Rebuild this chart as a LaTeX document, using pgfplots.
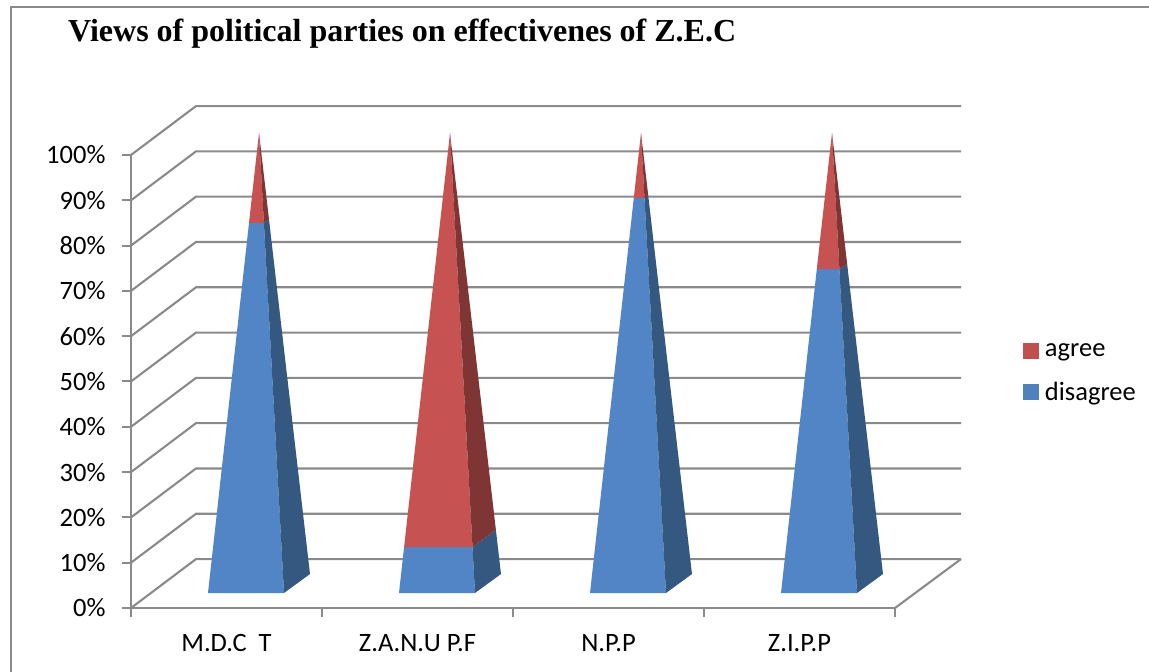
\documentclass[border=0pt]{standalone}
\usepackage{fontspec}
\setmainfont{Carlito}
\newfontfamily\titlefont{Liberation Serif}
\usepackage{pgfplots}
\pgfplotsset{compat=1.18}
\definecolor{axisgray}{HTML}{8A8A8A}
\definecolor{bluefront}{HTML}{5285C6}
\definecolor{blueside}{HTML}{355880}
\definecolor{redfront}{HTML}{C65252}
\definecolor{redside}{HTML}{803535}
\definecolor{legblue}{HTML}{4F81BD}
\definecolor{legred}{HTML}{C0504D}
\pgfplotsset{
  wall/.style={axisgray,line width=2.1pt,forget plot,no markers},
  face/.style={fill=#1,draw=none,forget plot,no markers},
  sq/.style={legend image code/.code={\fill[##1] (0pt,-7.5pt) rectangle (15pt,7.5pt);}},
}
\begin{document}
\begin{tikzpicture}
\useasboundingbox (-131pt,-66pt) rectangle (1018pt,606pt);
\draw[axisgray,line width=1.5pt] (-120pt,-66pt) -- (-120pt,599pt) -- (1018pt,599pt);
\begin{axis}[
  anchor=south west, at={(0pt,-2pt)},
  scale only axis, width=764pt, height=453pt,
  clip=false,
  xmin=131, xmax=895, ymin=0, ymax=100,
  axis lines=left,
  axis line style={axisgray,line width=2.1pt,-},
  tick style={axisgray,line width=2pt},
  tick align=outside,
  major tick length=9pt,
  xtick={131,322,513,704,895},
  xticklabels={},
  extra x ticks={226.5,417.5,608.5,799.5},
  extra x tick labels={M.D.C\ \ T,Z.A.N.U P.F,N.P.P,Z.I.P.P},
  extra x tick style={major tick length=0pt,tick style={draw=none}},
  x tick label style={font=\fontsize{26.5}{30}\selectfont,text=black,yshift=-23pt},
  ytick={0,10,...,100},
  yticklabel={\pgfmathprintnumber{\tick}\%},
  /pgf/number format/assume math mode=true,
  y tick label style={font=\fontsize{26.5}{30}\selectfont,text=black,xshift=-13pt},
  title={Views of political parties on effectivenes of Z.E.C},
  title style={at={(-0.0825,1.2362)},anchor=base west,inner sep=0pt,
    font=\titlefont\bfseries\fontsize{32}{36}\selectfont},
  legend style={at={(1.1675,0.519)},anchor=west,draw=none,fill=none,
    font=\fontsize{26.5}{30}\selectfont,row sep=20pt,inner sep=0pt,
    cells={anchor=west}},
  legend cell align=left,
]
% back wall and side wall grid lines
\addplot[wall] coordinates {(131,0)(196,10.8)(961,10.8)};
\addplot[wall] coordinates {(131,10)(196,20.8)(961,20.8)};
\addplot[wall] coordinates {(131,20)(196,30.8)(961,30.8)};
\addplot[wall] coordinates {(131,30)(196,40.8)(961,40.8)};
\addplot[wall] coordinates {(131,40)(196,50.8)(961,50.8)};
\addplot[wall] coordinates {(131,50)(196,60.8)(961,60.8)};
\addplot[wall] coordinates {(131,60)(196,70.8)(961,70.8)};
\addplot[wall] coordinates {(131,70)(196,80.8)(961,80.8)};
\addplot[wall] coordinates {(131,80)(196,90.8)(961,90.8)};
\addplot[wall] coordinates {(131,90)(196,100.8)(961,100.8)};
\addplot[wall] coordinates {(131,100)(196,110.8)(961,110.8)};
\addplot[wall] coordinates {(895,0)(961,10.8)};
% M.D.C T
\addplot[face=bluefront] coordinates {(208,3.31)(284,3.31)(263.9,84.99)(249,84.99)} --cycle;
\addplot[face=blueside] coordinates {(284,3.31)(310,7.50)(269,85.78)(263.9,84.99)} --cycle;
\addplot[face=redfront] coordinates {(249,84.99)(263.9,84.99)(259,104.86)} --cycle;
\addplot[face=redside] coordinates {(263.9,84.99)(269,85.78)(259,104.86)} --cycle;
% Z.A.N.U P.F
\addplot[face=bluefront] coordinates {(399,3.31)(475,3.31)(472.5,13.46)(404.1,13.46)} --cycle;
\addplot[face=blueside] coordinates {(475,3.31)(501,7.50)(495.9,17.24)(472.5,13.46)} --cycle;
\addplot[face=redfront] coordinates {(404.1,13.46)(472.5,13.46)(450,104.86)} --cycle;
\addplot[face=redside] coordinates {(472.5,13.46)(495.9,17.24)(450,104.86)} --cycle;
% N.P.P
\addplot[face=bluefront] coordinates {(590,3.31)(666,3.31)(644.5,90.51)(633.8,90.51)} --cycle;
\addplot[face=blueside] coordinates {(666,3.31)(692,7.50)(648.2,91.12)(644.5,90.51)} --cycle;
\addplot[face=redfront] coordinates {(633.8,90.51)(644.5,90.51)(641,104.86)} --cycle;
\addplot[face=redside] coordinates {(644.5,90.51)(648.2,91.12)(641,104.86)} --cycle;
% Z.I.P.P
\addplot[face=bluefront] coordinates {(781,3.31)(857,3.31)(839.4,74.83)(816.8,74.83)} --cycle;
\addplot[face=blueside] coordinates {(857,3.31)(883,7.50)(847.2,75.85)(839.4,74.83)} --cycle;
\addplot[face=redfront] coordinates {(816.8,74.83)(839.4,74.83)(832,104.86)} --cycle;
\addplot[face=redside] coordinates {(839.4,74.83)(847.2,75.85)(832,104.86)} --cycle;
% legend
\addlegendimage{sq,legred}
\addlegendentry{\,agree}
\addlegendimage{sq,legblue}
\addlegendentry{\,disagree}
\end{axis}
\end{tikzpicture}
\end{document}
